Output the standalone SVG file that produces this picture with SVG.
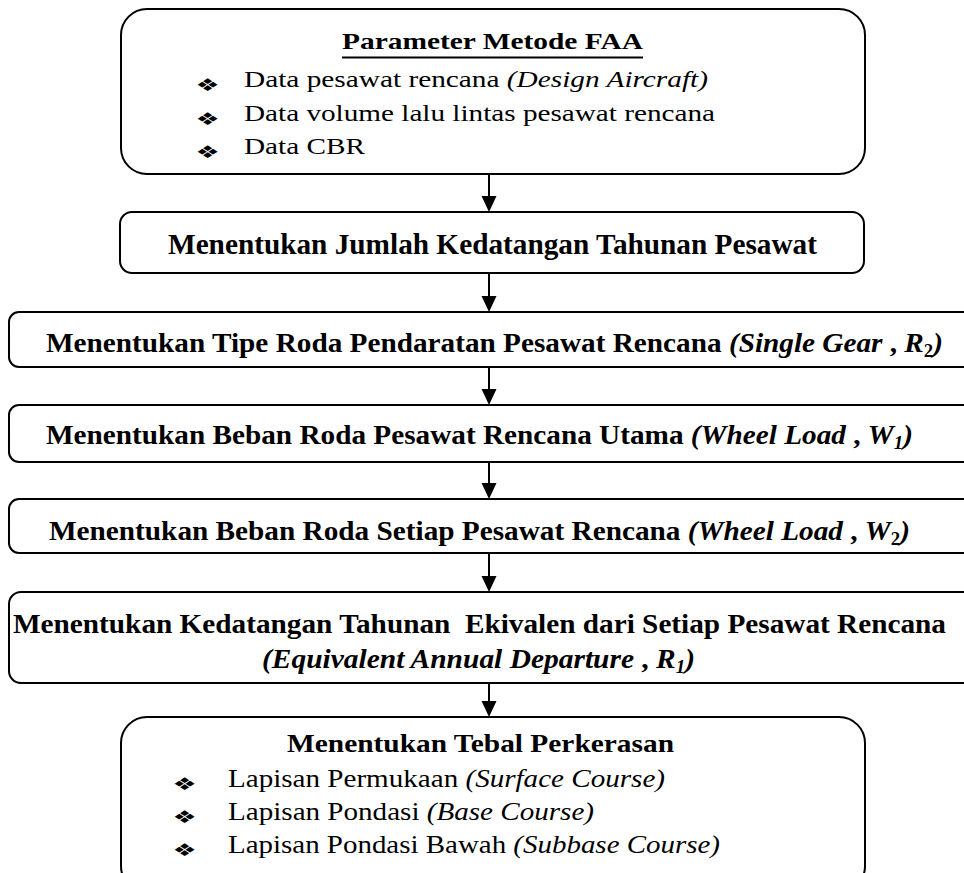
<svg xmlns="http://www.w3.org/2000/svg" width="964" height="873" viewBox="0 0 964 873">
<style>
.box{fill:#fff;stroke:#000;stroke-width:2}
.b{font-weight:bold}
.i{font-style:italic}
.bul{font-family:"DejaVu Sans",sans-serif;font-size:27px}
.con{stroke:#000;stroke-width:2;fill:none}
</style>
<defs>
<marker id="ah" viewBox="0 0 16 16" refX="12" refY="8" markerWidth="16" markerHeight="16" markerUnits="userSpaceOnUse" orient="auto">
<path d="M0,0.5 L16,8 L0,15.5 z" fill="#000"/>
</marker>
</defs>
<rect width="964" height="873" fill="#fff"/>

<g id="connectors">
<line class="con" x1="489" y1="174" x2="489" y2="208" marker-end="url(#ah)"/>
<line class="con" x1="489" y1="273" x2="489" y2="308" marker-end="url(#ah)"/>
<line class="con" x1="489" y1="367" x2="489" y2="401" marker-end="url(#ah)"/>
<line class="con" x1="489" y1="462" x2="489" y2="495" marker-end="url(#ah)"/>
<line class="con" x1="489" y1="553" x2="489" y2="588" marker-end="url(#ah)"/>
<line class="con" x1="489" y1="683" x2="489" y2="713" marker-end="url(#ah)"/>
</g>

<g font-family="Liberation Serif, Times New Roman, Times, serif" fill="#000">
<g id="node-parameter">
<rect class="box" x="121" y="9" width="744" height="165" rx="26"/>
<text class="b" x="342" y="49" font-size="24" textLength="301" lengthAdjust="spacingAndGlyphs">Parameter Metode FAA</text>
<line x1="342" y1="57.5" x2="643" y2="57.5" stroke="#000" stroke-width="2"/>
<text class="bul" transform="translate(195.6,91) scale(1,0.65)">❖</text>
<text x="244" y="87" font-size="24" textLength="464" lengthAdjust="spacingAndGlyphs">Data pesawat rencana <tspan class="i">(Design Aircraft)</tspan></text>
<text class="bul" transform="translate(195.6,125) scale(1,0.65)">❖</text>
<text x="244" y="121" font-size="24" textLength="471" lengthAdjust="spacingAndGlyphs">Data volume lalu lintas pesawat rencana</text>
<text class="bul" transform="translate(195.6,158) scale(1,0.65)">❖</text>
<text x="244" y="154" font-size="24" textLength="121" lengthAdjust="spacingAndGlyphs">Data CBR</text>
</g>

<g id="node-jumlah">
<rect class="box" x="120" y="212" width="744" height="61" rx="12"/>
<text class="b" x="168" y="254" font-size="29" textLength="649" lengthAdjust="spacingAndGlyphs">Menentukan Jumlah Kedatangan Tahunan Pesawat</text>
</g>

<g id="node-tipe-roda">
<rect class="box" x="9" y="312" width="1000" height="55" rx="10"/>
<text class="b" x="46" y="352" font-size="28" textLength="897" lengthAdjust="spacingAndGlyphs">Menentukan Tipe Roda Pendaratan Pesawat Rencana <tspan class="i">(Single Gear</tspan> , <tspan class="i">R</tspan><tspan font-size="18" dy="5">2</tspan><tspan class="i" dy="-5">)</tspan></text>
</g>

<g id="node-beban-utama">
<rect class="box" x="9" y="405" width="1000" height="57" rx="10"/>
<text class="b" x="46" y="444" font-size="28" textLength="867" lengthAdjust="spacingAndGlyphs">Menentukan Beban Roda Pesawat Rencana Utama <tspan class="i">(Wheel Load</tspan> , <tspan class="i">W</tspan><tspan class="i" font-size="18" dy="5">1</tspan><tspan class="i" dy="-5">)</tspan></text>
</g>

<g id="node-beban-setiap">
<rect class="box" x="9" y="499" width="1000" height="54" rx="10"/>
<text class="b" x="49" y="540" font-size="28" textLength="861" lengthAdjust="spacingAndGlyphs">Menentukan Beban Roda Setiap Pesawat Rencana <tspan class="i">(Wheel Load</tspan> , <tspan class="i">W</tspan><tspan font-size="18" dy="5">2</tspan><tspan class="i" dy="-5">)</tspan></text>
</g>

<g id="node-ekivalen">
<rect class="box" x="9" y="592" width="1000" height="91" rx="12"/>
<text class="b" x="13" y="633" font-size="28" textLength="933" lengthAdjust="spacingAndGlyphs" style="white-space:pre">Menentukan Kedatangan Tahunan  Ekivalen dari Setiap Pesawat Rencana</text>
<text class="b" x="262" y="668" font-size="28" textLength="433" lengthAdjust="spacingAndGlyphs"><tspan class="i">(Equivalent Annual Departure</tspan> , <tspan class="i">R</tspan><tspan class="i" font-size="18" dy="5">1</tspan><tspan class="i" dy="-5">)</tspan></text>
</g>

<g id="node-tebal">
<rect class="box" x="121" y="717" width="744" height="175" rx="26"/>
<text class="b" x="287" y="752" font-size="25" textLength="387" lengthAdjust="spacingAndGlyphs">Menentukan Tebal Perkerasan</text>
<text class="bul" transform="translate(172.6,790) scale(1,0.65)">❖</text>
<text x="228" y="787" font-size="24.5" textLength="437" lengthAdjust="spacingAndGlyphs">Lapisan Permukaan <tspan class="i">(Surface Course)</tspan></text>
<text class="bul" transform="translate(172.6,823) scale(1,0.65)">❖</text>
<text x="228" y="820" font-size="24.5" textLength="366" lengthAdjust="spacingAndGlyphs">Lapisan Pondasi <tspan class="i">(Base Course)</tspan></text>
<text class="bul" transform="translate(172.6,856) scale(1,0.65)">❖</text>
<text x="228" y="853" font-size="24.5" textLength="492" lengthAdjust="spacingAndGlyphs">Lapisan Pondasi Bawah <tspan class="i">(Subbase Course)</tspan></text>
</g>
</g>
</svg>
